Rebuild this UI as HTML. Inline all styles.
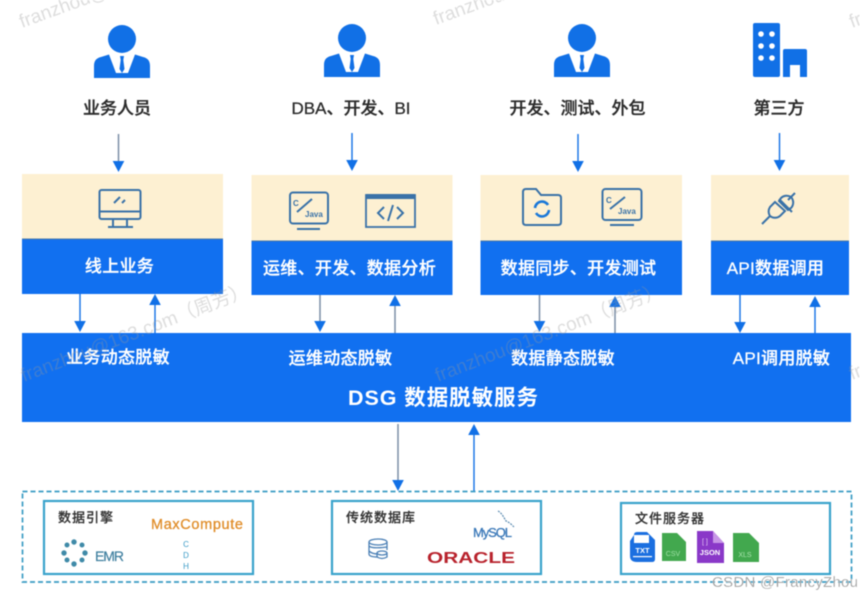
<!DOCTYPE html>
<html lang="zh">
<head>
<meta charset="utf-8">
<title>DSG 数据脱敏服务</title>
<style>
html,body{margin:0;padding:0;background:#fff;width:860px;height:596px;overflow:hidden}
svg{display:block;filter:blur(.45px)}
text{font-family:"Liberation Sans","Noto Sans CJK SC",sans-serif}
.lab{font-size:17px;fill:#2b2b2b;stroke:#2b2b2b;stroke-width:.3;text-anchor:middle;font-weight:500}
.w{font-size:17px;fill:#fff;stroke:#fff;stroke-width:.3;text-anchor:middle;font-weight:500;letter-spacing:.3px}
.wm{font-size:19px;fill:#999;fill-opacity:.33}
.t{font-size:13px;fill:#333;stroke:#333;stroke-width:.2;font-weight:500}
.ic{fill:none;stroke:#3a72a8;stroke-width:2}
</style>
</head>
<body>
<svg width="860" height="596" viewBox="0 0 860 596" xmlns="http://www.w3.org/2000/svg">
<defs>
<g id="person">
<circle cx="0" cy="0" r="14" fill="#1170e6"/>
<path d="M-28 39V27C-28 21-25 19-21 18L-13 15.500-6 34H6L13 15.500 21 18C25 19 28 21 28 27V39Z" fill="#1170e6"/>
<path d="M-2 17H2L1.300 21 2.500 30 0 34-2.500 30-1.300 21Z" fill="#1170e6"/>
</g>
<path id="ah" d="M-5.800 -11H5.800L0 0Z" fill="#1170e6"/>
</defs>

<!-- people -->
<use href="#person" x="122" y="39"/>
<use href="#person" x="352" y="38"/>
<use href="#person" x="582" y="38"/>
<g fill="#1170e6">
<rect x="753" y="23" width="27" height="54" rx="2"/>
<path d="M785 49H805Q807 49 807 51V77H800V65H790V77H783V51Q783 49 785 49Z"/>
</g>
<g fill="#fff">
<circle cx="761" cy="34" r="2.800"/><circle cx="772" cy="34" r="2.800"/>
<circle cx="761" cy="46" r="2.800"/><circle cx="772" cy="46" r="2.800"/>
<circle cx="761" cy="58" r="2.800"/><circle cx="772" cy="58" r="2.800"/>
</g>

<text class="lab" x="117" y="114">业务人员</text>
<text class="lab" x="351" y="114">DBA、开发、BI</text>
<text class="lab" x="577.500" y="114">开发、测试、外包</text>
<text class="lab" x="779" y="114">第三方</text>

<!-- connectors -->
<g stroke="#1170e6" stroke-width="1.400">
<path d="M352 133V161M578 134V162M779.500 133V161"/>
<path d="M80 294V322M155 304V333M740 294V322M815 304V333"/>
<path d="M474 434V491"/>
</g>
<g stroke="#7b8ea6" stroke-width="1.500">
<path d="M118.500 134V162M320 294V322M395 304V333M539.500 294V322M615 304V333M398 424V481"/>
</g>
<use href="#ah" x="118.500" y="172"/><use href="#ah" x="352" y="171"/><use href="#ah" x="578" y="172"/><use href="#ah" x="779.500" y="171"/>
<use href="#ah" x="80" y="332"/><use href="#ah" x="320" y="332"/><use href="#ah" x="539.500" y="332"/><use href="#ah" x="740" y="333"/>
<use href="#ah" transform="translate(155 294) rotate(180)"/>
<use href="#ah" transform="translate(395 295) rotate(180)"/>
<use href="#ah" transform="translate(615 296) rotate(180)"/>
<use href="#ah" transform="translate(815 296) rotate(180)"/>
<use href="#ah" x="398" y="491"/>
<use href="#ah" transform="translate(474 424) rotate(180)"/>

<!-- cards -->
<rect x="22" y="174" width="201" height="65" fill="#fdf0d2"/>
<rect x="22" y="239" width="201" height="55" fill="#1170f0"/>
<rect x="251.500" y="175" width="201" height="66" fill="#fdf0d2"/>
<rect x="251.500" y="241" width="201" height="54" fill="#1170f0"/>
<rect x="480.500" y="175" width="201.500" height="66" fill="#fdf0d2"/>
<rect x="480.500" y="241" width="201.500" height="54" fill="#1170f0"/>
<rect x="711" y="175" width="138" height="66" fill="#fdf0d2"/>
<rect x="711" y="241" width="138" height="54" fill="#1170f0"/>
<g fill="#4a78a8">
<rect x="22" y="238.500" width="201" height="1"/>
<rect x="251.500" y="240.500" width="201" height="1"/>
<rect x="480.500" y="240.500" width="201.500" height="1"/>
<rect x="711" y="240.500" width="138" height="1"/>
</g>

<text class="w" x="119.500" y="272">线上业务</text>
<text class="w" x="349.500" y="274">运维、开发、数据分析</text>
<text class="w" x="578.500" y="274">数据同步、开发测试</text>
<text class="w" x="775.500" y="274">API数据调用</text>

<!-- monitor icon -->
<g class="ic">
<rect x="99.500" y="190" width="41" height="29" rx="2"/>
<path d="M99.500 211.500H140.500M113 219V226M127 219V226M108 227H133"/>
<path d="M114 203L120 197M122 203L125 200"/>
</g>
<!-- java console 1 -->
<g class="ic">
<rect x="290" y="192.500" width="38" height="31" rx="3"/>
<path d="M297 212L312 199M297 229H320"/>
</g>
<text x="293" y="206" font-size="8" fill="#3a72a8" font-weight="700">C</text>
<text x="305" y="217" font-size="8" fill="#3a72a8" font-weight="700">Java</text>
<!-- code window -->
<rect x="366" y="195" width="49" height="32" fill="none" stroke="#3a72a8" stroke-width="1.800"/>
<rect x="366" y="194" width="49" height="5" fill="#3a72a8"/>
<path d="M384 207L378 213 384 219M397 207L403 213 397 219M393 205L388 221" fill="none" stroke="#3a72a8" stroke-width="2"/>
<!-- folder icon -->
<path class="ic" d="M523 192Q523 189 526 189H536L541 195H558Q561 195 561 198V222Q561 225 558 225H526Q523 225 523 222Z"/>
<path d="M535 208A7 7 0 0 1 548 205M549 210A7 7 0 0 1 536 213" fill="none" stroke="#1b78d8" stroke-width="2.600"/>
<!-- java console 2 -->
<g class="ic">
<rect x="602.500" y="189" width="39" height="31" rx="3"/>
<path d="M610 209L625 197M610 225H634"/>
</g>
<text x="606" y="203" font-size="8" fill="#3a72a8" font-weight="700">C</text>
<text x="618" y="214" font-size="8" fill="#3a72a8" font-weight="700">Java</text>
<!-- plug icon -->
<g class="ic">
<path d="M762 224L770 216M795 193L788 200"/>
<path d="M775 202L770 207A8 8 0 0 0 770 216A8 8 0 0 0 780 216L785 211Z"/>
<path d="M779 199L792 212"/>
<path d="M781 198A8 8 0 0 1 791 197A8 8 0 0 1 791 208L788 210L779 201Z"/>
</g>

<!-- main -->
<rect x="22" y="333" width="829" height="89" fill="#1170f0"/>
<text class="w" x="118" y="363">业务动态脱敏</text>
<text class="w" x="340.500" y="364">运维动态脱敏</text>
<text class="w" x="563" y="364">数据静态脱敏</text>
<text class="w" x="781.500" y="364">API调用脱敏</text>
<text x="443" y="405" text-anchor="middle" font-size="21.500" font-weight="700" fill="#fff" textLength="190">DSG 数据脱敏服务</text>

<!-- storage -->
<rect x="22.500" y="491.500" width="829" height="90.500" fill="none" stroke="#3a9cc4" stroke-width="1.700" stroke-dasharray="5 3"/>
<g fill="#fff" stroke="#3aa3cc" stroke-width="2.200">
<rect x="44" y="501" width="209" height="73"/>
<rect x="332" y="501" width="209" height="73"/>
<rect x="621" y="503" width="209" height="71"/>
</g>
<text class="t" x="58" y="522" letter-spacing="1">数据引擎</text>
<text class="t" x="346" y="522" letter-spacing="1">传统数据库</text>
<text class="t" x="635" y="523" letter-spacing="1" font-weight="700">文件服务器</text>

<text x="151" y="529" font-size="14.500" fill="#e08e2b" stroke="#e08e2b" stroke-width=".3" font-weight="500" textLength="92">MaxCompute</text>
<g fill="#3f8aa8">
<circle cx="74" cy="542" r="2.700"/><circle cx="82" cy="545" r="2.500"/><circle cx="85" cy="553" r="2.700"/><circle cx="82" cy="560" r="2.500"/>
<circle cx="74" cy="564" r="2.700"/><circle cx="67" cy="560" r="2.500"/><circle cx="64" cy="553" r="2.700"/><circle cx="67" cy="545" r="2.500"/>
</g>
<text x="95" y="561" font-size="14" fill="#3f7f9f" stroke="#3f7f9f" stroke-width=".2" textLength="29">EMR</text>
<g font-size="8" fill="#3b9bc7" text-anchor="middle">
<text x="186" y="547">C</text><text x="186" y="558">D</text><text x="186" y="569">H</text>
</g>

<g fill="none" stroke="#4a7fb5" stroke-width="1.300">
<ellipse cx="378" cy="542" rx="9" ry="3"/>
<path d="M369 542V554Q369 557 378 557M387 542V550M369 546Q372 549 387 547M369 551Q372 554 378 554"/>
<ellipse cx="382" cy="553" rx="5" ry="2"/>
<path d="M377 553V557Q382 560 387 557V553"/>
</g>
<path d="M498 511C502 513 504 518 506 521C509 522 512 525 514 527" fill="none" stroke="#5a8ab0" stroke-width="1.200" stroke-dasharray="2 1"/>
<text x="473" y="537" font-size="13" fill="#3a78b8" stroke="#3a78b8" stroke-width=".3" textLength="39">MySQL</text>
<text x="427" y="563" font-size="15.500" font-weight="700" fill="#b8222c" textLength="88" lengthAdjust="spacingAndGlyphs">ORACLE</text>

<!-- file icons -->
<path d="M634 535Q634 532 637 532H647L655 540V559Q655 562 652 562H637Q630 562 630 556V541Z" fill="#1b6fe0"/>
<rect x="634" y="535" width="15" height="8" fill="#fff"/>
<text x="642.500" y="553" font-size="7.500" fill="#fff" font-weight="700" text-anchor="middle">TXT</text>
<rect x="633" y="556" width="19" height="1.200" fill="#fff"/>
<path d="M662 533H677L686 542V561H662Z" fill="#42a84e"/>
<text x="673" y="556" font-size="7" fill="#9fe0a5" text-anchor="middle">CSV</text>
<path d="M697 531H713L724 543V563H697Z" fill="#8a38c8"/>
<path d="M713 531L724 543H713Z" fill="#c795e6"/>
<text x="702" y="544" font-size="7" fill="#e5c9f5">[ ]</text>
<text x="710" y="555" font-size="7.500" fill="#fff" font-weight="700" text-anchor="middle">JSON</text>
<path d="M733 533H749L759 543V562H733Z" fill="#42a84e"/>
<text x="745" y="557" font-size="7" fill="#a9e3ad" text-anchor="middle">XLS</text>

<text x="712" y="587" font-size="15" fill="#9a9a9a" stroke="#fff" stroke-width=".2" textLength="146">CSDN @FrancyZhou</text>

<!-- watermarks -->
<text class="wm" transform="translate(22 28) rotate(-20)">franzhou@163.com</text>
<text class="wm" transform="translate(436 25) rotate(-20)">franzhou@163.com</text>
<text class="wm" transform="translate(852 28) rotate(-20)">franzhou</text>
<text class="wm" transform="translate(24 382) rotate(-21)">franzhou@163.com（周芳）</text>
<text class="wm" transform="translate(438 382) rotate(-21)">franzhou@163.com（周芳）</text>
<text class="wm" transform="translate(852 380) rotate(-21)">fr</text>
</svg>
</body>
</html>
